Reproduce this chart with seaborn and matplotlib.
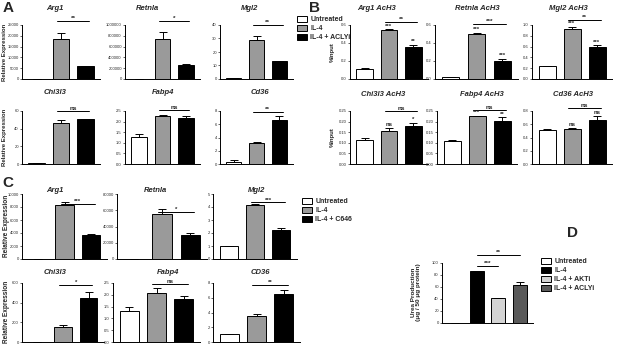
import numpy as np
import pandas as pd
import matplotlib
matplotlib.use("Agg")
import matplotlib.pyplot as plt
import seaborn as sns
from matplotlib.patches import Patch

sns.set_theme(style="ticks")
plt.rcParams['font.family'] = ['Liberation Sans', 'DejaVu Sans']

W, H = 617, 344

groups_acly = ["Untreated", "IL-4", "IL-4 + ACLYi"]
groups_c646 = ["Untreated", "IL-4", "IL-4 + C646"]
groups_d = ["Untreated", "IL-4", "IL-4 + AKTi", "IL-4 + ACLYi"]

colors3 = ["white", "#9a9a9a", "black"]
colors_d = ["white", "black", "#d4d4d4", "#5a5a5a"]

# ---------------- Panel A: Relative expression (ACLY inhibition)
A_titles = ["Arg1", "Retnla", "Mgl2", "Chi3l3", "Fabp4", "Cd36"]
A_means = [[1, 18700, 6000], [1, 740000, 258000], [1, 29, 13.2],
           [1, 46, 50.5], [1.25, 2.28, 2.17], [0.35, 3.1, 6.6]]
A_errs = [[0, 2700, 200], [0, 135000, 12000], [0, 2.8, 0.4],
          [0, 3.8, 0.8], [0.17, 0.05, 0.1], [0.3, 0.25, 0.7]]
A_ymax = [25000, 1000000, 40, 60, 2.5, 8]
A_step = [5000, 200000, 10, 20, 0.5, 2]
A_fmt = ["{:.0f}", "{:.0f}", "{:.0f}", "{:.0f}", "{:.1f}", "{:.0f}"]
A_sig = ["**", "*", "**", "ns", "ns", "**"]
A_bracket = [1.07, 1.08, 1.0, 1.0, 1.02, 0.98]

# ---------------- Panel B: %Input (AcH3 ChIP)
B_titles = ["Arg1 AcH3", "Retnla AcH3", "Mgl2 AcH3",
            "Chi3l3 AcH3", "Fabp4 AcH3", "Cd36 AcH3"]
B_means = [[0.11, 0.54, 0.355], [0.02, 0.505, 0.205], [0.24, 0.92, 0.595],
           [0.113, 0.158, 0.178], [0.11, 0.225, 0.205], [0.52, 0.53, 0.66]]
B_errs = [[0.012, 0.01, 0.025], [0.002, 0.01, 0.02], [0.005, 0.04, 0.03],
          [0.008, 0.012, 0.015], [0.003, 0.003, 0.015], [0.015, 0.01, 0.07]]
B_ymax = [0.6, 0.6, 1.0, 0.25, 0.25, 0.8]
B_step = [0.2, 0.2, 0.2, 0.05, 0.05, 0.2]
B_fmt = ["{:.1f}", "{:.1f}", "{:.1f}", "{:.2f}", "{:.2f}", "{:.1f}"]
B_sig = ["**", "***", "**", "ns", "ns", "ns"]
B_bar_sig = [["", "***", "**"], ["", "***", "***"], ["", "***", "***"],
             ["", "ns", "*"], ["", "***", "**"], ["", "ns", "ns"]]
B_bracket = [1.06, 1.02, 1.1, 1.0, 1.02, 1.05]

# ---------------- Panel C: Relative expression (C646)
C_titles = ["Arg1", "Retnla", "Mgl2", "Chi3l3", "Fabp4", "CD36"]
C_means = [[1, 8300, 3700], [1, 55000, 30000], [1.0, 4.15, 2.2],
           [1, 155, 445], [1.3, 2.08, 1.82], [1.05, 3.55, 6.45]]
C_errs = [[0, 400, 100], [0, 6000, 2500], [0.03, 0.1, 0.15],
          [0, 15, 65], [0.18, 0.2, 0.15], [0.03, 0.2, 0.55]]
C_ymax = [10000, 80000, 5, 600, 2.5, 8]
C_step = [2000, 20000, 1, 200, 0.5, 2]
C_fmt = ["{:.0f}", "{:.0f}", "{:.0f}", "{:.0f}", "{:.1f}", "{:.0f}"]
C_sig = ["***", "*", "***", "*", "ns", "**"]
C_bracket = [0.85, 0.73, 0.87, 0.97, 0.98, 0.96]

# ---------------- Panel D: Urea production
D_means = [0, 86, 41, 64]
D_errs = [0, 1.5, 1, 4]
D_sig = ["***", "**"]
D_pairs = [(1, 2), (1, 3)]
D_bracket = [95, 113]

fig = plt.figure(figsize=(W / 100, H / 100), dpi=100)

TICK_FS = 3.0
TITLE_FS = 5.5


def px_axes(l, t, r, b):
    return fig.add_axes([l / W, 1 - b / H, (r - l) / W, (b - t) / H])


def draw(ax, groups, means, errs, colors, ymax, step, fmt, bar_w=0.68):
    df = pd.DataFrame({"g": groups, "v": means})
    sns.barplot(data=df, x="g", y="v", hue="g", order=groups, hue_order=groups,
                palette=colors, legend=False, edgecolor="black", linewidth=0.7,
                width=bar_w, errorbar=None, saturation=1, ax=ax)
    x = np.arange(len(groups))
    ax.errorbar(x, means, yerr=[np.zeros(len(errs)), errs], fmt="none",
                ecolor="black", elinewidth=0.7, capsize=2.6, capthick=0.7,
                zorder=1)
    ax.set_xlim(-0.6, len(groups) - 0.4)
    ax.set_ylim(0, ymax)
    ticks = np.arange(0, ymax + step / 2, step)
    ax.set_yticks(ticks)
    ax.set_yticklabels([fmt.format(t) for t in ticks])
    ax.set_xticks([])
    ax.set_xlabel("")
    ax.set_ylabel("")
    ax.tick_params(axis="y", labelsize=TICK_FS, length=1.5, width=0.5, pad=0.8)
    for s in ["top", "right"]:
        ax.spines[s].set_visible(False)
    for s in ["left", "bottom"]:
        ax.spines[s].set_linewidth(0.7)
        ax.spines[s].set_color("black")
    ax.patch.set_alpha(0)


def bracket(ax, x0, x1, y, text, fs=4.6):
    ax.plot([x0, x1], [y, y], color="black", lw=0.7, clip_on=False)
    ax.text((x0 + x1) / 2, y, text, ha="center", va="bottom", fontsize=fs,
            fontweight="bold", clip_on=False)


def title(x_px, y_px, text):
    fig.text(x_px / W, 1 - y_px / H, text, ha="center", va="center",
             fontsize=TITLE_FS, fontweight="bold", style="italic")


def ylab(x_px, y_px, text, fs=4.3):
    fig.text(x_px / W, 1 - y_px / H, text, ha="center", va="center",
             rotation=90, fontsize=fs, fontweight="bold", linespacing=1.2)


def letter(x_px, y_px, text):
    fig.text(x_px / W, 1 - y_px / H, text, ha="center", va="center",
             fontsize=11, fontweight="bold")


# ---- layout boxes (left, top, right, bottom in px)
A_boxes = [(22, 25, 100, 79), (125, 25, 200, 79), (220, 25, 293, 79),
           (22, 111, 100, 164), (125, 111, 200, 164), (220, 111, 293, 164)]
A_tx = [(55, 8), (147, 8), (250, 8), (55, 93), (163, 93), (260, 93)]
B_boxes = [(350, 25, 428, 79), (435, 25, 518, 79), (532, 25, 612, 79),
           (350, 111, 428, 164), (437, 111, 517, 164), (532, 111, 612, 164)]
B_tx = [(377, 8), (477, 8), (568, 8), (383, 94), (482, 94), (573, 94)]
C_boxes = [(22, 194, 107, 259), (117, 194, 207, 259), (213, 194, 297, 259),
           (22, 283, 104, 342), (113, 283, 200, 342), (213, 283, 300, 342)]
C_tx = [(55, 190), (155, 190), (257, 190), (55, 273), (168, 272), (260, 273)]

for i in range(6):
    ax = px_axes(*A_boxes[i])
    draw(ax, groups_acly, A_means[i], A_errs[i], colors3, A_ymax[i], A_step[i], A_fmt[i])
    bracket(ax, 0.85, 2.15, A_bracket[i] * A_ymax[i], A_sig[i])
    title(*A_tx[i], A_titles[i])

for i in range(6):
    ax = px_axes(*B_boxes[i])
    draw(ax, groups_acly, B_means[i], B_errs[i], colors3, B_ymax[i], B_step[i], B_fmt[i])
    bracket(ax, 0.85, 2.15, B_bracket[i] * B_ymax[i], B_sig[i])
    for j in range(3):
        if B_bar_sig[i][j]:
            ax.text(j, B_means[i][j] + B_errs[i][j] + 0.015 * B_ymax[i],
                    B_bar_sig[i][j], ha="center", va="bottom", fontsize=4.3,
                    fontweight="bold", clip_on=False)
    title(*B_tx[i], B_titles[i])

for i in range(6):
    ax = px_axes(*C_boxes[i])
    draw(ax, groups_c646, C_means[i], C_errs[i], colors3, C_ymax[i], C_step[i], C_fmt[i])
    bracket(ax, 0.85, 2.15, C_bracket[i] * C_ymax[i], C_sig[i], fs=4.3)
    title(*C_tx[i], C_titles[i])

axd = px_axes(442, 263, 533, 323)
draw(axd, groups_d, D_means, D_errs, colors_d, 100, 20, "{:.0f}", bar_w=0.66)
for (p0, p1), yb, s in zip(D_pairs, D_bracket, D_sig):
    bracket(axd, p0, p1, yb, s)

# y labels
ylab(5, 52, "Relative Expression")
ylab(5, 137, "Relative Expression")
ylab(332, 52, "%Input")
ylab(332, 137, "%Input")
ylab(6, 226, "Relative Expression", fs=4.7)
ylab(6, 312, "Relative Expression", fs=4.7)
ylab(416, 292, "Urea Production\n(\u03bcg / 50 \u03bcg protein)", fs=4.6)

# panel letters
letter(8, 8, "A")
letter(315, 8, "B")
letter(8, 183, "C")
letter(573, 233, "D")


def legend(x_px, y_px, labels, colors, fs=5):
    handles = [Patch(facecolor=c, edgecolor="black", linewidth=0.7) for c in colors]
    fig.legend(handles, labels, loc="upper left",
               bbox_to_anchor=(x_px / W, 1 - y_px / H), frameon=False,
               prop={"size": fs, "weight": "bold"}, handlelength=1.5,
               handleheight=0.9, labelspacing=0.25, handletextpad=0.4,
               borderpad=0, borderaxespad=0)


legend(297, 16, groups_acly, colors3)
legend(302, 198, groups_c646, colors3)
legend(541, 258, groups_d, colors_d)

fig.savefig("out.png", dpi=100)
